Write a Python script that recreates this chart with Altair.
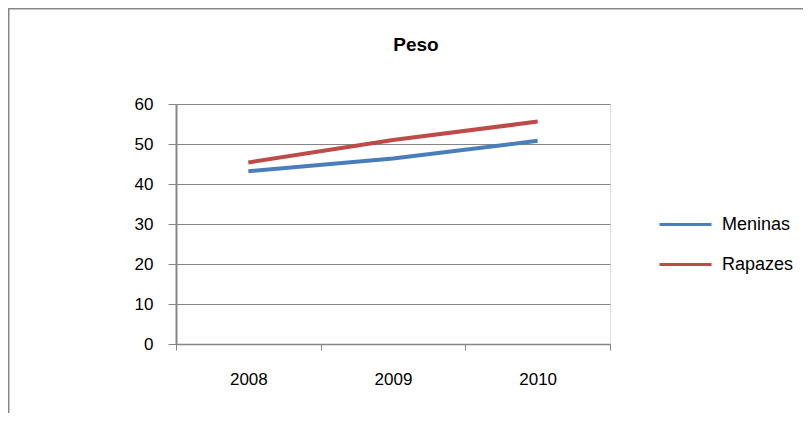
import altair as alt
import pandas as pd

years = ["2008", "2009", "2010"]
meninas = [43.2, 46.4, 50.8]
rapazes = [45.4, 51.0, 55.6]
series = ["Meninas", "Rapazes"]
colors = ["#4A7EBB", "#BE4B48"]
y_ticks = [0, 10, 20, 30, 40, 50, 60]

rows = []
for y, m, r in zip(years, meninas, rapazes):
    rows.append({"ano": y, "serie": series[0], "peso": m})
    rows.append({"ano": y, "serie": series[1], "peso": r})
df = pd.DataFrame(rows)

W, H = 434, 240
PL, PT, PR, PB = 168, 96, 193, 69
GRAY = "#868686"
FONT = "Liberation Sans"

lines = alt.Chart(df).mark_line(strokeWidth=4, strokeCap="butt").encode(
    x=alt.X("ano:O", bandPosition=0.5,
            scale=alt.Scale(type="band", paddingInner=0, paddingOuter=0),
            axis=alt.Axis(title=None, labelAngle=0, tickBand="extent", grid=False,
                          domainColor=GRAY, domainWidth=1.5, tickColor=GRAY,
                          tickSize=6, labelPadding=21, labelFontSize=17,
                          labelFont=FONT, labelColor="#000000")),
    y=alt.Y("peso:Q", scale=alt.Scale(domain=[0, 60], nice=False),
            axis=alt.Axis(title=None, values=y_ticks, grid=True, gridColor=GRAY,
                          gridWidth=1, domainColor=GRAY, domainWidth=2,
                          tickColor=GRAY, tickSize=8, labelPadding=15,
                          labelFontSize=17, labelFont=FONT, labelColor="#000000")),
    color=alt.Color("serie:N", scale=alt.Scale(domain=series, range=colors),
                    legend=alt.Legend(title=None, orient="none", legendX=495, legendY=106,
                                      symbolType="M-2,0H2", symbolSize=676,
                                      symbolStrokeWidth=3, labelOffset=22,
                                      rowPadding=16, padding=0, labelFontSize=18,
                                      labelFont=FONT, labelColor="#000000")),
)

frame_data = alt.Data(values=[{"a": 1}])
left_border = alt.Chart(frame_data).mark_rule(color="#888888", strokeWidth=2).encode(
    x=alt.value(-PL + 0.5), y=alt.value(-PT), y2=alt.value(H + PB)
)
top_border = alt.Chart(frame_data).mark_rule(color="#888888", strokeWidth=2).encode(
    y=alt.value(-PT + 0.5), x=alt.value(-PL), x2=alt.value(W + PR)
)

chart = alt.layer(lines, left_border, top_border).properties(
    width=W, height=H,
    autosize=alt.AutoSizeParams(type="none"),
    padding={"left": PL, "top": PT, "right": PR, "bottom": PB},
    title=alt.TitleParams("Peso", fontSize=19, font=FONT, fontWeight="bold",
                          color="#000000", anchor="middle", dx=23, offset=-48),
).configure_view(stroke=None).configure(background="white")

chart.save("out.html", embed_options={"renderer": "svg", "actions": False})
